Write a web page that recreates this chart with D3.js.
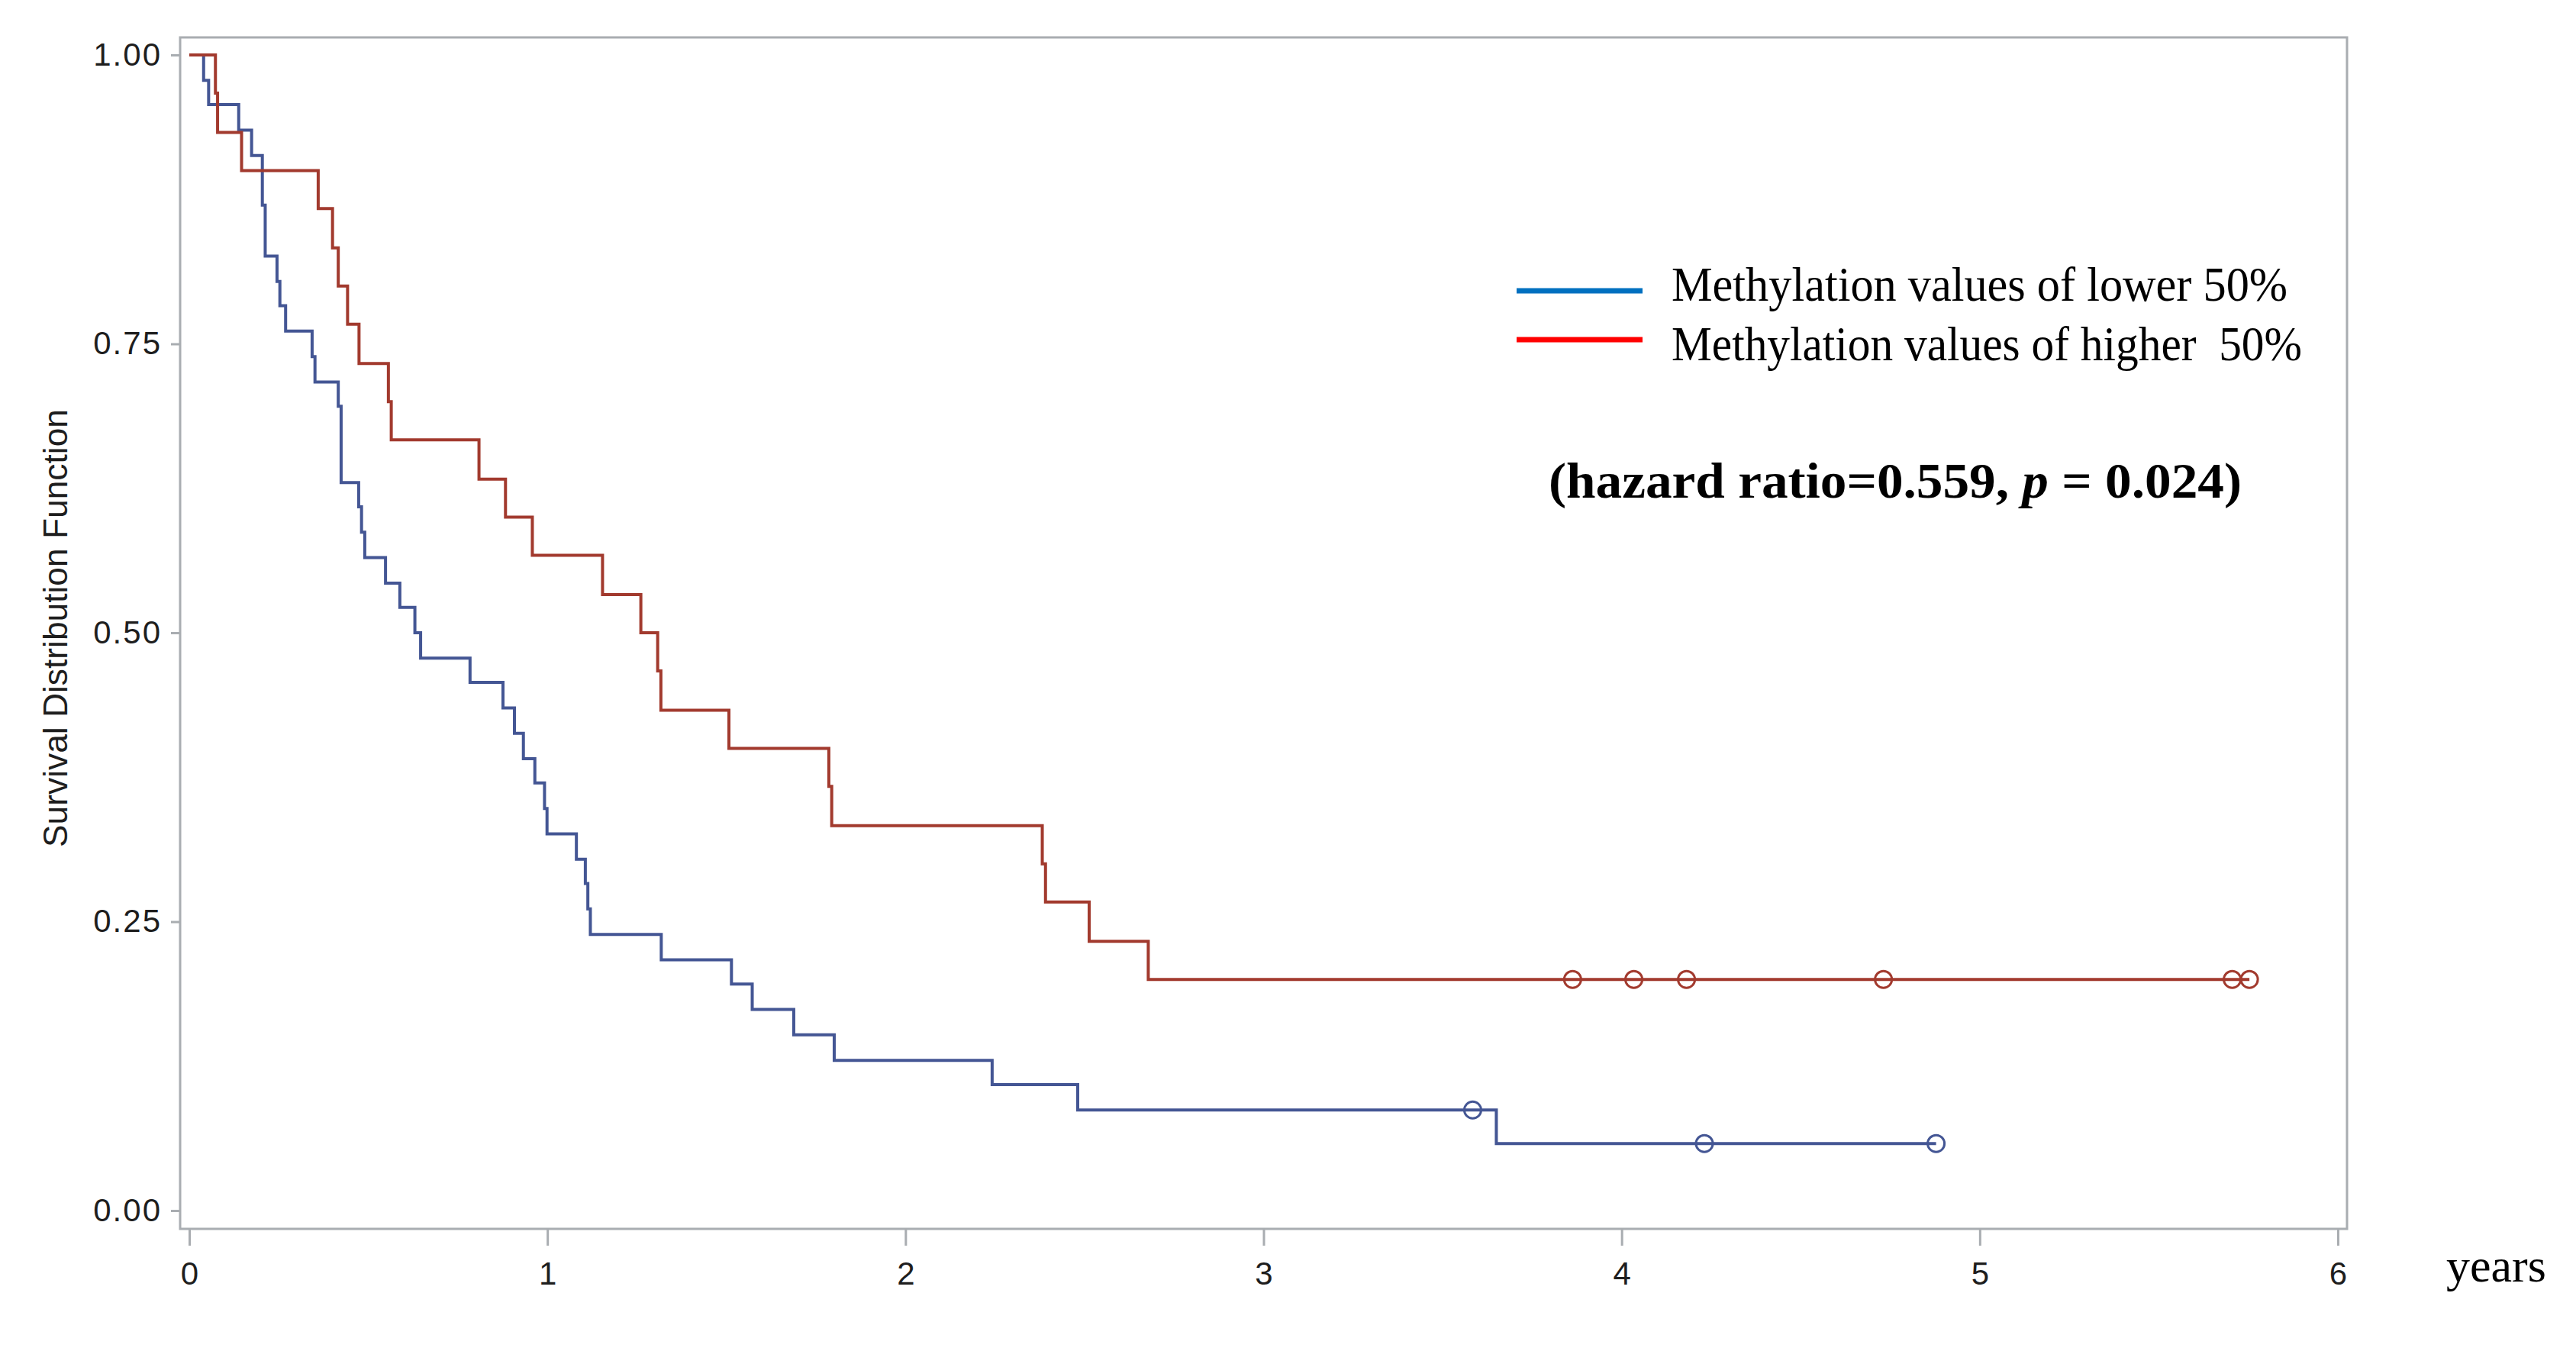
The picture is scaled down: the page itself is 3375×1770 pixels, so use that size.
<!DOCTYPE html>
<html>
<head>
<meta charset="utf-8">
<script src="https://cdn.jsdelivr.net/npm/d3@7"></script>
<style>
  body { margin: 0; background: #fff; }
  svg { display: block; }
</style>
</head>
<body>
<svg id="chart"></svg>
<script>
// Kaplan-Meier steps, time in years
const lowTimes = [0, 0.040, 0.054, 0.138, 0.174, 0.204, 0.212, 0.245, 0.253, 0.269, 0.343, 0.351, 0.416, 0.424,
  0.473, 0.481, 0.490, 0.548, 0.588, 0.630, 0.646, 0.784, 0.876, 0.908, 0.933, 0.965, 0.992, 0.999,
  1.081, 1.106, 1.113, 1.120, 1.318, 1.514, 1.572, 1.688, 1.801, 2.242, 2.481, 3.650, 4.878];
const lowSurv = [1.000, 0.978, 0.957, 0.935, 0.913, 0.870, 0.826, 0.804, 0.783, 0.761, 0.739, 0.717, 0.696, 0.630,
  0.609, 0.587, 0.565, 0.543, 0.522, 0.500, 0.478, 0.457, 0.435, 0.413, 0.391, 0.370, 0.348, 0.326,
  0.304, 0.283, 0.261, 0.239, 0.217, 0.196, 0.174, 0.152, 0.130, 0.109, 0.087, 0.058, 0.058];
const lowCensor = [3.584, 4.231, 4.878];
const lowCensorSurv = [0.087, 0.058, 0.058];

const highTimes = [0, 0.073, 0.079, 0.146, 0.360, 0.400, 0.416, 0.442, 0.474, 0.556, 0.564, 0.809, 0.883,
  0.958, 1.154, 1.261, 1.308, 1.317, 1.507, 1.786, 1.794, 2.382, 2.391, 2.513, 2.678, 5.753];
const highSurv = [1.000, 0.967, 0.933, 0.900, 0.867, 0.833, 0.800, 0.767, 0.733, 0.700, 0.667, 0.633, 0.600,
  0.567, 0.533, 0.500, 0.467, 0.433, 0.400, 0.367, 0.333, 0.300, 0.267, 0.233, 0.200, 0.200];
const highCensor = [3.863, 4.034, 4.181, 4.731, 5.705, 5.753];
const highCensorSurv = [0.200, 0.200, 0.200, 0.200, 0.200, 0.200];

const xTicks = [0, 1, 2, 3, 4, 5, 6];
const yTicks = [0, 0.25, 0.5, 0.75, 1];
const legendLabels = ['Methylation values of lower 50%', 'Methylation values of higher  50%'];
const legendColors = ['#0070C0', '#FF0000'];

const W = 3375, H = 1770;
const frame = { left: 236, right: 3075, top: 49, bottom: 1610 };

const svg = d3.select('#chart').attr('width', W).attr('height', H);

const x = d3.scaleLinear().domain([0, 6]).range([248, 3063]);
const y = d3.scaleLinear().domain([0, 1]).range([1586, 72]);

// frame
svg.append('rect')
  .attr('x', frame.left).attr('y', frame.top)
  .attr('width', frame.right - frame.left).attr('height', frame.bottom - frame.top)
  .attr('fill', 'none').attr('stroke', '#a9adb1').attr('stroke-width', 3);

const xAxis = svg.append('g')
  .attr('transform', `translate(0,${frame.bottom})`)
  .call(d3.axisBottom(x).tickValues(xTicks).tickFormat(d3.format('d')).tickSize(22).tickPadding(21));
const yAxis = svg.append('g')
  .attr('transform', `translate(${frame.left},0)`)
  .call(d3.axisLeft(y).tickValues(yTicks).tickFormat(d3.format('.2f')).tickSize(12).tickPadding(12));

[xAxis, yAxis].forEach(g => {
  g.select('.domain').remove();
  g.selectAll('.tick line').attr('stroke', '#a9adb1').attr('stroke-width', 3);
  g.selectAll('.tick text')
    .attr('fill', '#1e1e1e')
    .style('font-family', '"Liberation Sans", Arial, sans-serif')
    .style('font-size', '42px');
});
yAxis.selectAll('.tick text').style('letter-spacing', '2px');

// y title
svg.append('text')
  .attr('transform', 'translate(88,823) rotate(-90)')
  .attr('text-anchor', 'middle')
  .attr('textLength', 574)
  .attr('lengthAdjust', 'spacingAndGlyphs')
  .style('font-family', '"Liberation Sans", Arial, sans-serif')
  .style('font-size', '45px')
  .attr('fill', '#1e1e1e')
  .text('Survival Distribution Function');

// x title
svg.append('text')
  .attr('x', 3205).attr('y', 1679)
  .style('font-family', '"Liberation Serif", "Times New Roman", serif')
  .style('font-size', '62px')
  .attr('fill', '#000')
  .text('years');

const line = d3.line()
  .curve(d3.curveStepAfter)
  .x(d => x(d[0]))
  .y(d => y(d[1]));

const series = [
  { times: lowTimes, surv: lowSurv, ct: lowCensor, cs: lowCensorSurv, color: '#445694' },
  { times: highTimes, surv: highSurv, ct: highCensor, cs: highCensorSurv, color: '#A23A2E' }
];

series.forEach(s => {
  svg.append('path')
    .datum(d3.zip(s.times, s.surv))
    .attr('fill', 'none')
    .attr('stroke', s.color)
    .attr('stroke-width', 4)
    .attr('d', line);

  svg.append('g')
    .selectAll('circle')
    .data(d3.zip(s.ct, s.cs))
    .enter()
    .append('circle')
    .attr('cx', d => x(d[0]))
    .attr('cy', d => y(d[1]))
    .attr('r', 11)
    .attr('fill', 'none')
    .attr('stroke', s.color)
    .attr('stroke-width', 3);
});

// legend
const legend = svg.append('g');
legendLabels.forEach((lab, i) => {
  const ly = 381 + i * 64;
  legend.append('line')
    .attr('x1', 1987).attr('x2', 2152)
    .attr('y1', ly).attr('y2', ly)
    .attr('stroke', legendColors[i])
    .attr('stroke-width', 7);
  legend.append('text')
    .attr('x', 2190).attr('y', 394 + i * 78)
    .attr('textLength', i === 0 ? 807 : 826)
    .attr('lengthAdjust', 'spacingAndGlyphs')
    .style('font-family', '"Liberation Serif", "Times New Roman", serif')
    .style('font-size', '64px')
    .style('white-space', 'pre')
    .attr('fill', '#000')
    .text(lab);
});

// hazard ratio note
const note = svg.append('text')
  .attr('x', 2029).attr('y', 652)
  .attr('textLength', 908)
  .attr('lengthAdjust', 'spacingAndGlyphs')
  .style('font-family', '"Liberation Serif", "Times New Roman", serif')
  .style('font-size', '66px')
  .style('font-weight', 'bold')
  .style('white-space', 'pre')
  .attr('fill', '#000');
note.append('tspan').text('(hazard ratio=0.559, ');
note.append('tspan').style('font-style', 'italic').text('p');
note.append('tspan').text(' = 0.024)');
</script>
</body>
</html>
